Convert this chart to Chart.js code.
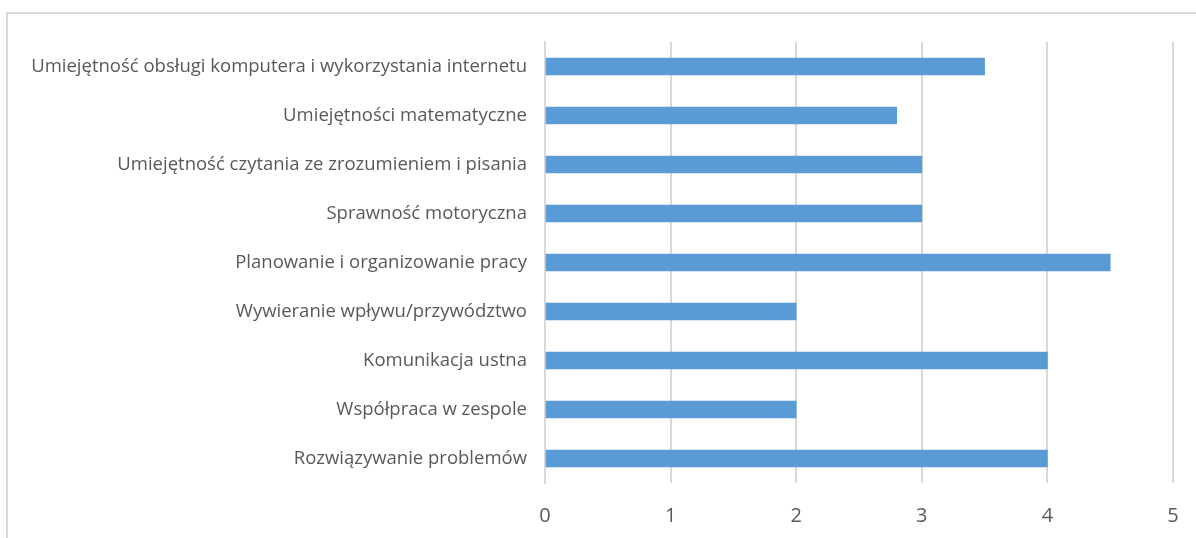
<!DOCTYPE html>
<html>
<head>
<meta charset="utf-8">
<script src="https://cdn.jsdelivr.net/npm/chart.js@4/dist/chart.umd.min.js"></script>
<style>
  html, body { margin: 0; padding: 0; background: #fff; }
  #wrap { position: relative; width: 1196px; height: 538px; }
  #frame { position: absolute; left: 6px; top: 12px; right: -4px; bottom: -4px; border: 2px solid #d9d9d9; }
  canvas { position: absolute; left: 0; top: 0; }
</style>
</head>
<body>
<div id="wrap">
  <div id="frame"></div>
  <canvas id="skillsChart" width="1196" height="538"></canvas>
</div>
<script>
// Categories (top to bottom) and their values
const categories = [
  'Umiejętność obsługi komputera i wykorzystania internetu',
  'Umiejętności matematyczne',
  'Umiejętność czytania ze zrozumieniem i pisania',
  'Sprawność motoryczna',
  'Planowanie i organizowanie pracy',
  'Wywieranie wpływu/przywództwo',
  'Komunikacja ustna',
  'Współpraca w zespole',
  'Rozwiązywanie problemów'
];
const values = [3.5, 2.8, 3, 3, 4.5, 2, 4, 2, 4];
const xTicks = [0, 1, 2, 3, 4, 5];

window.addEventListener('DOMContentLoaded', () => {
  const ctx = document.getElementById('skillsChart');
  new Chart(ctx.getContext('2d'), {
    type: 'bar',
    data: {
      labels: categories,
      datasets: [{
        data: values,
        backgroundColor: '#5b9bd5',
        borderWidth: 0,
        barThickness: 17
      }]
    },
    options: {
      indexAxis: 'y',
      responsive: false,
      animation: false,
      layout: { padding: { top: 42, right: 23, bottom: 0, left: 0 } },
      plugins: {
        legend: { display: false },
        tooltip: { enabled: false }
      },
      scales: {
        x: {
          min: 0,
          max: 5,
          afterBuildTicks: (scale) => { scale.ticks = xTicks.map(v => ({ value: v })); },
          afterFit: (scale) => {
            scale.height = 55;
            scale.paddingLeft = 0;
            scale.paddingRight = 0;
          },
          grid: { color: '#d9d9d9', lineWidth: 2, drawTicks: false },
          border: { display: false },
          ticks: {
            padding: 21,
            color: '#595959',
            font: { family: 'Open Sans', size: 20 }
          }
        },
        y: {
          afterFit: (scale) => { scale.width = 545; },
          grid: { display: false, drawTicks: false },
          border: { display: true, color: '#d9d9d9', width: 2 },
          ticks: {
            padding: 18,
            color: '#595959',
            font: { family: 'Open Sans', size: 18.5 }
          }
        }
      }
    }
  });
});
</script>
</body>
</html>
